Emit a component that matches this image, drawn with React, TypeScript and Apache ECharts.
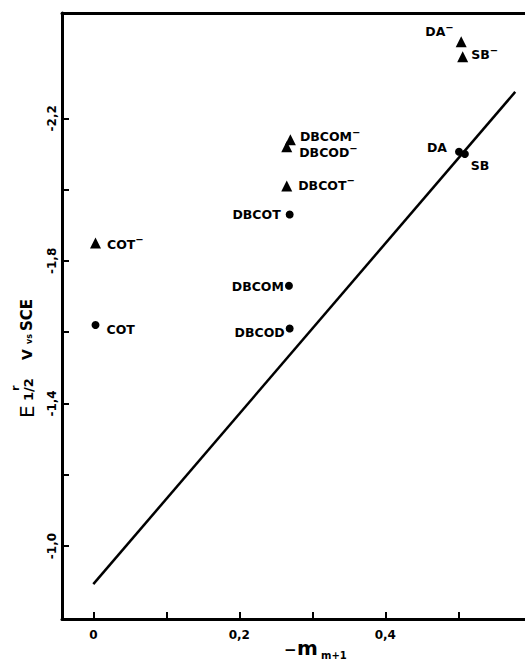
import React, { useEffect, useRef } from "react";
import * as echarts from "echarts";

// ---- data ----
const circleNames = ["COT", "DBCOT", "DBCOM", "DBCOD", "DA", "SB"];
const circleX = [0.003, 0.269, 0.268, 0.269, 0.501, 0.509];
const circleY = [-1.62, -1.93, -1.73, -1.61, -2.106, -2.1];

const anionNames = ["COT⁻", "DBCOT⁻", "DBCOM⁻", "DBCOD⁻", "DA⁻", "SB⁻"];
const anionX = [0.003, 0.265, 0.27, 0.265, 0.504, 0.506];
const anionY = [-1.85, -2.01, -2.14, -2.12, -2.415, -2.373];

const fitX = [0.0, 0.578];
const fitY = [-0.893, -2.274];

const xTicks = [0, 0.1, 0.2, 0.3, 0.4, 0.5];
const xTickLabels = [0, 0.2, 0.4];
const yTicks = [-2.2, -2.0, -1.8, -1.6, -1.4, -1.2, -1.0];
const yTickLabels = [-2.2, -1.8, -1.4, -1.0];

const X_MIN = -0.0429;
const X_MAX = 0.5914;
const Y_MIN = -2.4954;
const Y_MAX = -0.7952;

const INK = "#000";
const FONT = "DejaVu Sans";

// label placement per point (style, not data)
const labelPlacement: Record<string, any> = {
  COT: { position: "right", distance: 7, offset: [0, 4] },
  DBCOT: { position: "left", distance: 5, offset: [0, 0] },
  DBCOM: { position: "left", distance: 1, offset: [0, 1] },
  DBCOD: { position: "left", distance: 1, offset: [0, 4] },
  DA: { position: "left", distance: 8, offset: [0, -4] },
  SB: { position: "right", distance: 2, offset: [0, 12] },
  "COT⁻": { position: "right", distance: 6, offset: [0, 1] },
  "DBCOT⁻": { position: "right", distance: 6, offset: [0, -1] },
  "DBCOM⁻": { position: "right", distance: 4, offset: [0, -3] },
  "DBCOD⁻": { position: "right", distance: 7, offset: [0, 6] },
  "DA⁻": { position: "left", distance: 2, offset: [0, -10] },
  "SB⁻": { position: "right", distance: 3, offset: [0, -2] },
};

const fmtNum = (v: number) =>
  Math.abs(v) < 1e-9 ? "0" : v.toFixed(1).replace(".", ",");

const labelBase = {
  show: true,
  formatter: (p: any) => {
    const n: string = p.name;
    if (n.endsWith("⁻")) return `{t|${n.slice(0, -1)}}{m|−}`;
    return `{t|${n}}`;
  },
  color: INK,
  fontFamily: FONT,
  fontWeight: "bold" as const,
  fontSize: 12.5,
  rich: {
    t: {
      color: INK,
      fontFamily: FONT,
      fontWeight: "bold",
      fontSize: 12.5,
    },
    m: {
      color: INK,
      fontFamily: FONT,
      fontWeight: "bold",
      fontSize: 10,
      padding: [0, 0, 9, 0],
    },
  },
};

const txt = (text: string, x: number, y: number, size: number, bold = true) => ({
  type: "text",
  x,
  y,
  style: {
    text,
    fontSize: size,
    fontWeight: bold ? "bold" : "normal",
    fontFamily: FONT,
    fill: INK,
    textAlign: "left",
    textVerticalAlign: "middle",
  },
});

export default function App() {
  const ref = useRef<HTMLDivElement>(null);
  useEffect(() => {
    if (!ref.current) return;
    const chart = echarts.init(ref.current, null, { renderer: "svg" });
    const axisLineStyle = { color: INK, width: 3 };
    chart.setOption({
      animation: false,
      backgroundColor: "#fff",
      grid: { left: 62, top: 13, right: 0, bottom: 41, containLabel: false },
      xAxis: [
        {
          type: "value",
          min: X_MIN,
          max: X_MAX,
          axisLine: { show: true, onZero: false, lineStyle: axisLineStyle },
          axisTick: {
            show: true,
            inside: true,
            length: 7,
            customValues: xTicks,
            lineStyle: { color: INK, width: 2 },
          },
          axisLabel: {
            show: true,
            customValues: xTickLabels,
            formatter: (v: number) => fmtNum(v),
            color: INK,
            fontFamily: FONT,
            fontWeight: "bold",
            fontSize: 12,
            margin: 10,
          },
          splitLine: { show: false },
        },
        {
          type: "value",
          position: "top",
          min: X_MIN,
          max: X_MAX,
          axisLine: { show: true, onZero: false, lineStyle: axisLineStyle },
          axisTick: { show: false },
          axisLabel: { show: false },
          splitLine: { show: false },
        },
      ],
      yAxis: {
        type: "value",
        inverse: true,
        min: Y_MIN,
        max: Y_MAX,
        axisLine: { show: true, onZero: false, lineStyle: axisLineStyle },
        axisTick: {
          show: true,
          inside: true,
          length: 7,
          customValues: yTicks,
          lineStyle: { color: INK, width: 2 },
        },
        axisLabel: {
          show: true,
          customValues: yTickLabels,
          formatter: (v: number) => fmtNum(v),
          rotate: 90,
          color: INK,
          fontFamily: FONT,
          fontWeight: "bold",
          fontSize: 12,
          margin: 4,
        },
        splitLine: { show: false },
      },
      graphic: [
        {
          type: "group",
          x: 27,
          y: 418,
          rotation: Math.PI / 2,
          children: [
            txt("E", 0, 0, 20, false),
            txt("1/2", 17, 1, 13),
            txt("r", 27, -12, 11),
            txt("V", 58, 0, 14),
            txt("vs", 74, 2, 8),
            txt("SCE", 87, 0, 15),
          ],
        },
        txt("−", 284, 650, 15),
        txt("m", 297, 648, 20),
        txt("m+1", 321, 655, 10),
      ],
      series: [
        {
          type: "line",
          xAxisIndex: 0,
          data: fitX.map((x, i) => [x, fitY[i]]),
          showSymbol: false,
          symbol: "none",
          lineStyle: { color: INK, width: 2.5 },
          z: 1,
          silent: true,
        },
        {
          type: "scatter",
          name: "neutral",
          xAxisIndex: 0,
          symbol: "circle",
          symbolSize: 8,
          itemStyle: { color: INK, opacity: 1 },
          label: labelBase,
          data: circleNames.map((n, i) => ({
            name: n,
            value: [circleX[i], circleY[i]],
            label: labelPlacement[n],
          })),
          z: 3,
        },
        {
          type: "scatter",
          name: "anion",
          xAxisIndex: 0,
          symbol: "triangle",
          symbolSize: 11,
          itemStyle: { color: INK, opacity: 1 },
          label: labelBase,
          data: anionNames.map((n, i) => ({
            name: n,
            value: [anionX[i], anionY[i]],
            label: labelPlacement[n],
          })),
          z: 3,
        },
      ],
    });
    return () => chart.dispose();
  }, []);
  return (
    <div
      ref={ref}
      style={{
        position: "fixed",
        left: 0,
        top: 0,
        width: 525,
        height: 660,
        background: "#fff",
      }}
    />
  );
}
